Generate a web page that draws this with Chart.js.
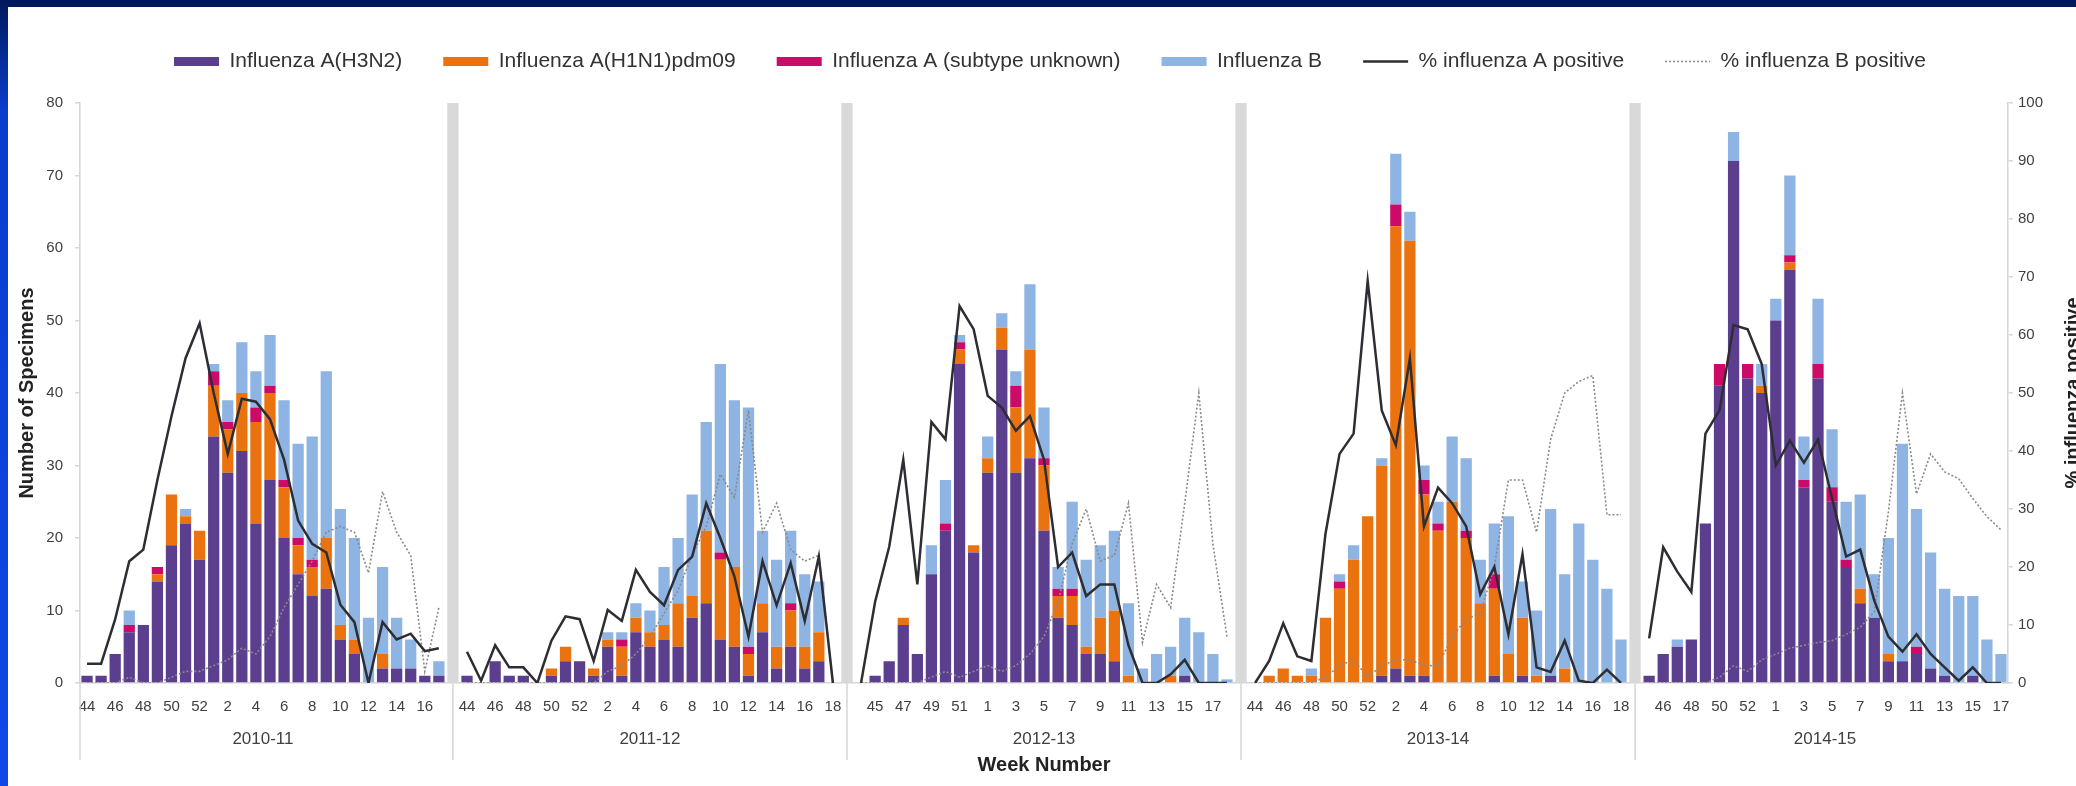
<!DOCTYPE html>
<html>
<head>
<meta charset="utf-8">
<script src="https://cdn.jsdelivr.net/npm/chart.js@4.4.1/dist/chart.umd.min.js"></script>
<style>
  html, body { margin: 0; padding: 0; background: #ffffff; overflow: hidden; width: 2076px; height: 786px; }
  #wrap { position: absolute; left: 0; top: 0; width: 2100px; height: 786px; }
  #topband { position: absolute; left: 0; top: 0; width: 2076px; height: 7px; background: #001a5c; z-index: 2; }
  #leftband { position: absolute; left: 0; top: 0; width: 8px; height: 786px; z-index: 2;
              background: linear-gradient(#001a5c 0px, #0a3ccc 110px, #1048e8 100%); }
</style>
</head>
<body>
<div id="wrap"><canvas id="chart" width="2100" height="786"></canvas></div>
<div id="topband"></div>
<div id="leftband"></div>
<script>
// ---- Seasons and ISO week numbers ----
const seasonNames = ['2010-11', '2011-12', '2012-13', '2013-14', '2014-15'];

const weeks_2010_11 = [44,45,46,47,48,49,50,51,52,1,2,3,4,5,6,7,8,9,10,11,12,13,14,15,16,17];
const weeks_2011_12 = [44,45,46,47,48,49,50,51,52,1,2,3,4,5,6,7,8,9,10,11,12,13,14,15,16,17,18];
const weeks_2012_13 = [44,45,46,47,48,49,50,51,52,1,2,3,4,5,6,7,8,9,10,11,12,13,14,15,16,17,18];
const weeks_2013_14 = [44,45,46,47,48,49,50,51,52,1,2,3,4,5,6,7,8,9,10,11,12,13,14,15,16,17,18];
const weeks_2014_15 = [45,46,47,48,49,50,51,52,53,1,2,3,4,5,6,7,8,9,10,11,12,13,14,15,16,17];

// week numbers printed under the axis
const labelledWeeks_2010_11 = [44,46,48,50,52,2,4,6,8,10,12,14,16];
const labelledWeeks_2011_12 = [44,46,48,50,52,2,4,6,8,10,12,14,16,18];
const labelledWeeks_2012_13 = [45,47,49,51,1,3,5,7,9,11,13,15,17];
const labelledWeeks_2013_14 = [44,46,48,50,52,2,4,6,8,10,12,14,16,18];
const labelledWeeks_2014_15 = [46,48,50,52,1,3,5,7,9,11,13,15,17];

// ---- Number of specimens ----
const h3n2_2010_11 = [1,1,4,7,8,14,19,22,17,34,29,32,22,28,20,15,12,13,6,4,0,2,2,2,1,1];
const h1n1_2010_11 = [0,0,0,0,0,1,7,1,4,7,6,8,14,12,7,4,4,7,2,2,0,2,0,0,0,0];
const aUnk_2010_11 = [0,0,0,1,0,1,0,0,0,2,1,0,2,1,1,1,1,0,0,0,0,0,0,0,0,0];
const fluB_2010_11 = [0,0,0,2,0,0,0,1,0,1,3,7,5,7,11,13,17,23,16,14,9,12,7,4,0,2];

const h3n2_2011_12 = [1,0,3,1,1,0,1,3,3,1,5,1,7,5,6,5,9,11,6,5,1,7,2,5,2,3,0];
const h1n1_2011_12 = [0,0,0,0,0,0,1,2,0,1,1,4,2,2,2,6,3,10,11,11,3,4,3,5,3,4,0];
const aUnk_2011_12 = [0,0,0,0,0,0,0,0,0,0,0,1,0,0,0,0,0,0,1,0,1,0,0,1,0,0,0];
const fluB_2011_12 = [0,0,0,0,0,0,0,0,0,0,1,1,2,3,8,9,14,15,26,23,33,10,12,10,10,7,0];

const h3n2_2012_13 = [0,1,3,8,4,15,21,44,18,29,46,29,31,21,9,8,4,4,3,0,0,0,0,1,0,0,0];
const h1n1_2012_13 = [0,0,0,1,0,0,0,2,1,2,3,9,15,9,3,4,1,5,7,1,0,0,1,0,0,0,0];
const aUnk_2012_13 = [0,0,0,0,0,0,1,1,0,0,0,3,0,1,1,1,0,0,0,0,0,0,0,0,0,0,0];
const fluB_2012_13 = [0,0,0,0,0,4,6,1,0,3,2,2,9,7,3,12,12,10,11,10,2,4,4,8,7,4,0.5];

const h3n2_2013_14 = [0,0,0,0,0,0,0,0,0,1,2,1,1,0,0,0,0,1,0,1,0,1,0,0,0,0,0];
const h1n1_2013_14 = [0,1,2,1,1,9,13,17,23,29,61,60,25,21,25,20,11,12,4,8,1,0,2,0,0,0,0];
const aUnk_2013_14 = [0,0,0,0,0,0,1,0,0,0,3,0,2,1,0,1,0,2,0,0,0,0,0,0,0,0,0];
const fluB_2013_14 = [0,0,0,0,1,0,1,2,0,1,7,4,2,3,9,10,6,7,19,5,9,23,13,22,17,13,6];

const h3n2_2014_15 = [1,4,5,6,22,41,72,42,40,50,57,27,42,25,16,11,9,3,3,4,2,1,0,1,0,0];
const h1n1_2014_15 = [0,0,0,0,0,0,0,0,1,0,1,0,0,0,0,2,0,1,0,0,0,0,0,0,0,0];
const aUnk_2014_15 = [0,0,0,0,0,3,0,2,0,0,1,1,2,2,1,0,0,0,0,1,0,0,0,0,0,0];
const fluB_2014_15 = [0,0,1,0,0,0,4,0,3,3,11,6,9,8,8,13,6,16,30,19,16,12,12,11,6,4];

// ---- Percent positive ----
const pctA_2010_11 = [3.3,3.3,11,21,23,35,46,56,62,50,39.5,49,48.5,45.5,38.5,28,24,22.5,13.5,10.5,0,10.5,7.5,8.5,5.5,6];
const pctB_2010_11 = [0,0,0,1,0,0,1,2,2,3,4,6,5,8,13,17,21,26,27,26,19,33,26,22,2,13];

const pctA_2011_12 = [5.4,0.4,6.5,2.7,2.7,0,7.3,11.5,11,3.8,12.6,10.7,19.5,15.7,13.4,19.5,21.8,31,25,18.4,8,21,13.4,20.7,10.7,21.8,0];
const pctB_2011_12 = [0,0,0,0,0,0,0,0,0,0,2,3,5,8,12,16,22,27,36,32,47,26,31,23,21,22,0];

const pctA_2012_13 = [0,14,23.5,38.5,17,45,42,65,61,49.5,47.5,43.5,46,38.5,20,22.5,15,17,17,6.5,0,0,1.5,4,0,0,0];
const pctB_2012_13 = [0,0,0,0,0,1,2,1,2,3,2,3,5,8,14,24,30,21,22,31,7,17,13,31,50,24,8];

const pctA_2013_14 = [0,3.8,10.3,4.6,3.8,25.7,39.5,43,69.3,47,41,56,27,33.7,31,27,15.3,20,8.4,22.2,2.7,1.9,7.3,0.4,0,2.3,0];
const pctB_2013_14 = [0,0,0,0,0,1,3,4,1,3,4,4,3,3,8,11,12,20,35,35,26,42,50,52,53,29,29];

const pctA_2014_15 = [7.7,23.4,19.2,15.7,43,47,61.7,61,55,37.5,41.8,38,42,31.8,21.8,23,14.2,8,5.4,8.4,5,2.7,0.4,2.7,0,0];
const pctB_2014_15 = [0,0,0,0,0,1,3,2,4,5,6,6.5,7,7.3,8.4,9.6,12.3,29.5,50,32.6,39.5,36.4,35.2,31.8,28.7,26.4];

// ---- Assemble one category axis: seasons separated by a grey divider column ----
const countMax = 80;
const pctMax = 100;
const seasons = [
  { name: seasonNames[0], weeks: weeks_2010_11, shown: labelledWeeks_2010_11, h3n2: h3n2_2010_11, h1n1: h1n1_2010_11, unk: aUnk_2010_11, b: fluB_2010_11, pa: pctA_2010_11, pb: pctB_2010_11 },
  { name: seasonNames[1], weeks: weeks_2011_12, shown: labelledWeeks_2011_12, h3n2: h3n2_2011_12, h1n1: h1n1_2011_12, unk: aUnk_2011_12, b: fluB_2011_12, pa: pctA_2011_12, pb: pctB_2011_12 },
  { name: seasonNames[2], weeks: weeks_2012_13, shown: labelledWeeks_2012_13, h3n2: h3n2_2012_13, h1n1: h1n1_2012_13, unk: aUnk_2012_13, b: fluB_2012_13, pa: pctA_2012_13, pb: pctB_2012_13 },
  { name: seasonNames[3], weeks: weeks_2013_14, shown: labelledWeeks_2013_14, h3n2: h3n2_2013_14, h1n1: h1n1_2013_14, unk: aUnk_2013_14, b: fluB_2013_14, pa: pctA_2013_14, pb: pctB_2013_14 },
  { name: seasonNames[4], weeks: weeks_2014_15, shown: labelledWeeks_2014_15, h3n2: h3n2_2014_15, h1n1: h1n1_2014_15, unk: aUnk_2014_15, b: fluB_2014_15, pa: pctA_2014_15, pb: pctB_2014_15 }
];

const labels = [], tickText = [], dividerIdx = [], seasonSpans = [];
const col = { h3n2: [], h1n1: [], unk: [], b: [], pa: [], pb: [], divider: [] };

seasons.forEach((s, si) => {
  if (si > 0) {
    dividerIdx.push(labels.length);
    labels.push('');
    tickText.push('');
    Object.keys(col).forEach(k => col[k].push(k === 'divider' ? countMax : null));
  }
  const start = labels.length;
  s.weeks.forEach((w, i) => {
    labels.push(s.name + ' wk ' + w);
    tickText.push(s.shown.includes(w) ? String(w) : '');
    col.h3n2.push(s.h3n2[i]);
    col.h1n1.push(s.h1n1[i]);
    col.unk.push(s.unk[i]);
    col.b.push(s.b[i]);
    col.pa.push(s.pa[i]);
    col.pb.push(s.pb[i]);
    col.divider.push(null);
  });
  seasonSpans.push({ name: s.name, start: start, end: labels.length - 1 });
});

const FONT = '"Liberation Sans", Arial, Helvetica, sans-serif';
Chart.defaults.font.family = FONT;
Chart.defaults.color = '#404040';

// season names, group dividers under the axis, and the right-hand axis title
const seasonAxis = {
  id: 'seasonAxis',
  afterDraw(chart) {
    const { ctx, chartArea, scales } = chart;
    const x = scales.x;
    ctx.save();
    ctx.strokeStyle = '#d6d6d6';
    ctx.lineWidth = 1.5;
    const xs = [chartArea.left].concat(dividerIdx.map(i => x.getPixelForValue(i)));
    xs.forEach(px => {
      ctx.beginPath();
      ctx.moveTo(px, chartArea.bottom);
      ctx.lineTo(px, chartArea.bottom + 77);
      ctx.stroke();
    });
    ctx.fillStyle = '#404040';
    ctx.font = '17px ' + FONT;
    ctx.textAlign = 'center';
    ctx.textBaseline = 'middle';
    seasonSpans.forEach(sp => {
      const cx = (x.getPixelForValue(sp.start) + x.getPixelForValue(sp.end)) / 2;
      ctx.fillText(sp.name, cx, chartArea.bottom + 56);
    });
    const y2 = scales.y2;
    ctx.translate(y2.right - 27, (chartArea.top + chartArea.bottom) / 2);
    ctx.rotate(-Math.PI / 2);
    ctx.font = 'bold 20px ' + FONT;
    ctx.fillStyle = '#222222';
    ctx.fillText('% influenza positive', 0, 0);
    ctx.restore();
  }
};

const barCommon = { stack: 'counts', yAxisID: 'y', categoryPercentage: 0.8, barPercentage: 1.0, borderWidth: 0, order: 2 };

new Chart(document.getElementById('chart'), {
  type: 'bar',
  data: {
    labels: labels,
    datasets: [
      Object.assign({ label: 'Influenza A(H3N2)', data: col.h3n2, backgroundColor: '#5b3e8d' }, barCommon),
      Object.assign({ label: 'Influenza A(H1N1)pdm09', data: col.h1n1, backgroundColor: '#ea730f' }, barCommon),
      Object.assign({ label: 'Influenza A (subtype unknown)', data: col.unk, backgroundColor: '#cc0a68' }, barCommon),
      Object.assign({ label: 'Influenza B', data: col.b, backgroundColor: '#8eb4e3' }, barCommon),
      Object.assign({ label: '', data: col.divider, backgroundColor: '#d9d9d9' }, barCommon),
      { type: 'line', label: '% influenza A positive', data: col.pa, yAxisID: 'y2',
        borderColor: '#2d2d33', borderWidth: 2.5, pointRadius: 0, tension: 0, spanGaps: false, order: 0 },
      { type: 'line', label: '% influenza B positive', data: col.pb, yAxisID: 'y2',
        borderColor: '#8a8a8a', borderWidth: 1.6, borderDash: [2, 2], pointRadius: 0, tension: 0, spanGaps: false, order: 1 }
    ]
  },
  options: {
    responsive: false,
    animation: false,
    devicePixelRatio: 1,
    layout: { padding: { top: 10, left: 0, right: 0, bottom: 0 } },
    plugins: {
      tooltip: { enabled: false },
      legend: {
        position: 'top',
        labels: {
          usePointStyle: true,
          pointStyleWidth: 45,
          boxHeight: 9,
          padding: 41,
          color: '#333333',
          font: { size: 21 },
          generateLabels(chart) {
            return chart.data.datasets
              .map((ds, i) => ({ ds, i }))
              .filter(o => o.ds.label)
              .map(({ ds, i }) => {
                const isLine = ds.type === 'line';
                return {
                  text: ds.label,
                  datasetIndex: i,
                  fillStyle: isLine ? 'rgba(0,0,0,0)' : ds.backgroundColor,
                  strokeStyle: isLine ? ds.borderColor : ds.backgroundColor,
                  lineWidth: isLine ? ds.borderWidth : 0,
                  lineDash: ds.borderDash || [],
                  pointStyle: isLine ? 'line' : 'rect',
                  hidden: false,
                  fontColor: '#333333'
                };
              });
          }
        }
      },
      // empty spacer between the legend row and the plot
      subtitle: { display: true, text: '', weight: 100, font: { size: 10, lineHeight: 1 }, padding: { top: 11, bottom: 0 } }
    },
    scales: {
      x: {
        stacked: true,
        ticks: {
          autoSkip: false, maxRotation: 0, minRotation: 0, padding: 15,
          font: { size: 15 }, color: '#404040',
          callback: (v, i) => tickText[i]
        },
        grid: { display: false, drawTicks: false },
        border: { display: true, color: '#d6d6d6', width: 1.5 },
        title: { display: true, text: 'Week Number', color: '#222222',
                 font: { size: 20, weight: 'bold' }, padding: { top: 0, bottom: 9 } },
        afterFit(scale) { scale.height = 103; }
      },
      y: {
        stacked: true, min: 0, max: countMax, position: 'left',
        ticks: { stepSize: 10, padding: 12, font: { size: 15 }, color: '#404040' },
        grid: { drawOnChartArea: false, drawTicks: true, tickLength: 5, color: '#d6d6d6', lineWidth: 1.5 },
        border: { display: true, color: '#d6d6d6', width: 1.5 },
        title: { display: true, text: 'Number of Specimens', color: '#222222',
                 font: { size: 20, weight: 'bold' }, padding: { top: 15, bottom: 0 } },
        afterFit(scale) { scale.width = 80; }
      },
      y2: {
        stacked: false, min: 0, max: pctMax, position: 'right',
        ticks: { stepSize: 10, padding: 5, font: { size: 15 }, color: '#404040' },
        grid: { drawOnChartArea: false, drawTicks: true, tickLength: 5, color: '#d6d6d6', lineWidth: 1.5 },
        border: { display: true, color: '#d6d6d6', width: 1.5 },
        afterFit(scale) { scale.width = 92; }
      }
    }
  },
  plugins: [seasonAxis]
});
</script>
</body>
</html>
